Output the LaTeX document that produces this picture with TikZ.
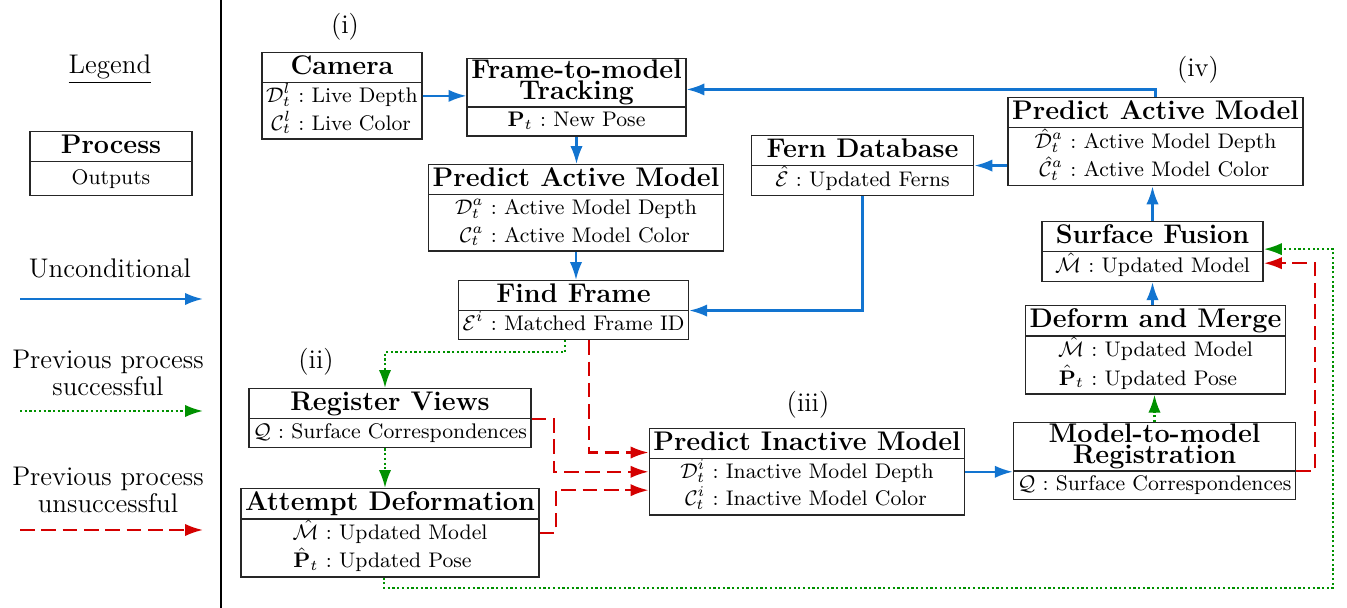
\RequirePackage{fix-cm}
\documentclass[tikz,border=0pt]{standalone}
\usetikzlibrary{shapes.multipart,arrows.meta,calc}

\definecolor{flowblue}{RGB}{18,116,208}
\definecolor{flowgreen}{RGB}{0,145,0}
\definecolor{flowred}{RGB}{212,0,0}

% text size of the outputs
\newcommand\outfont{\fontsize{9.4}{11.3}\selectfont}
% trims a tabular so that a part is not padded twice
\newcommand\trim[1]{\raisebox{0pt}[\dimexpr\height-1pt][\dimexpr\depth-1pt]{#1}}
% title of a process box (one line, fixed strut)
\newcommand\tstrut{\rule[-2.3pt]{0pt}{10.6pt}}
\newcommand\ttl[1]{{\large\bfseries\tstrut#1}}
% two-line title
\newcommand\ttwo[2]{\trim{\large\bfseries\def\arraystretch{0.7}%
  \begin{tabular}{@{}c@{}}#1\\[-1.7pt]#2\end{tabular}}}
% list of outputs "symbol : description"
\newcommand\outs[1]{\trim{\def\arraystretch{1.08}%
  \begin{tabular}{@{}r@{\ :\ }l@{}}#1\end{tabular}}}

\begin{document}
\begin{tikzpicture}[x=0.445pt,y=-0.445pt,
  proc/.style={rectangle split, rectangle split parts=2, draw=black!85,
    line width=0.65pt, inner xsep=1.8pt, inner ysep=1pt, font=\outfont,
    anchor=north},
  flow/.style={line width=1pt, -{Latex[length=8pt,width=5.5pt]}},
  uncond/.style={flow, draw=flowblue},
  succ/.style={flow, draw=flowgreen, dash pattern=on 1pt off 1.1pt},
  fail/.style={flow, draw=flowred, dash pattern=on 6.5pt off 3pt},
  lbl/.style={font=\large, inner sep=0pt},
]
\useasboundingbox (0,0) rectangle (1347,608);

% ---------------- legend ----------------
\node[lbl] (legtitle) at (110,69) {\underline{Legend}};
\node[proc, minimum width=72pt] (key) at (111,131)
  {\ttl{Process}\nodepart{two}\rule[-3.6pt]{0pt}{12.5pt}Outputs};

\node[lbl] (legA) at (110,268) {Unconditional};
\coordinate (la1) at (20,299); \coordinate (la2) at (203,299);
\draw[uncond] (la1) -- (la2);

\node[lbl, align=center] (legB) at (108,373) {Previous process\\[-2pt]successful};
\coordinate (lb1) at (20,411); \coordinate (lb2) at (203,411);
\draw[succ] (lb1) -- (lb2);

\node[lbl, align=center] (legC) at (108,490) {Previous process\\[-2pt]unsuccessful};
\coordinate (lc1) at (20,530); \coordinate (lc2) at (203,530);
\draw[fail] (lc1) -- (lc2);

\draw[line width=0.9pt] (221,0) -- (221,608);

% ---------------- stage labels ----------------
\node[lbl] (s1) at (345,27) {(i)};
\node[lbl] (s2) at (316,362) {(ii)};
\node[lbl] (s3) at (808,405) {(iii)};
\node[lbl] (s4) at (1198,70) {(iv)};

% ---------------- processes ----------------
\node[proc] (cam) at (342,52)
  {\ttl{Camera}\nodepart{two}\outs{$\mathcal{D}^l_t$ & Live Depth\\ $\mathcal{C}^l_t$ & Live Color}};
\node[proc] (ftm) at (576.5,58)
  {\ttwo{Frame-to-model}{Tracking}\nodepart{two}\outs{$\mathbf{P}_t$ & New Pose}};
\node[proc] (pal) at (576,164)
  {\ttl{Predict Active Model}\nodepart{two}\outs{$\mathcal{D}^a_t$ & Active Model Depth\\ $\mathcal{C}^a_t$ & Active Model Color}};
\node[proc] (ff) at (573.5,280)
  {\ttl{Find Frame}\nodepart{two}\outs{$\mathcal{E}^i$ & Matched Frame ID}};
\node[proc, minimum width=99pt] (fern) at (862.5,135)
  {\ttl{Fern Database}\nodepart{two}\outs{$\hat{\mathcal{E}}$ & Updated Ferns}};
\node[proc] (par) at (1155.5,97)
  {\ttl{Predict Active Model}\nodepart{two}\outs{$\hat{\mathcal{D}}^a_t$ & Active Model Depth\\ $\hat{\mathcal{C}}^a_t$ & Active Model Color}};
\node[proc, minimum width=98.5pt] (sf) at (1152.5,221)
  {\ttl{Surface Fusion}\nodepart{two}\outs{$\hat{\mathcal{M}}$ & Updated Model}};
\node[proc] (dm) at (1155.5,305)
  {\ttl{Deform and Merge}\nodepart{two}\outs{$\hat{\mathcal{M}}$ & Updated Model\\ $\hat{\mathbf{P}}_t$ & Updated Pose}};
\node[proc] (mm) at (1154.5,422)
  {\ttwo{Model-to-model}{Registration}\nodepart{two}\outs{$\mathcal{Q}$ & Surface Correspondences}};
\node[proc] (pim) at (807,428)
  {\ttl{Predict Inactive Model}\nodepart{two}\outs{$\mathcal{D}^i_t$ & Inactive Model Depth\\ $\mathcal{C}^i_t$ & Inactive Model Color}};
\node[proc] (rv) at (390,388)
  {\ttl{Register Views}\nodepart{two}\outs{$\mathcal{Q}$ & Surface Correspondences}};
\node[proc] (ad) at (390,488)
  {\ttl{Attempt Deformation}\nodepart{two}\outs{$\hat{\mathcal{M}}$ & Updated Model\\ $\hat{\mathbf{P}}_t$ & Updated Pose}};

% ---------------- connection points ----------------
\coordinate (ftmin) at ($(ftm.north east)!0.4!(ftm.south east)$);
\coordinate (sfg)   at ($(sf.north east)!0.46!(sf.south east)$);
\coordinate (sfr)   at ($(sf.north east)!0.69!(sf.south east)$);
\coordinate (pimA)  at ($(pim.north west)!0.28!(pim.south west)$);
\coordinate (pimB)  at ($(pim.north west)!0.50!(pim.south west)$);
\coordinate (pimC)  at ($(pim.north west)!0.71!(pim.south west)$);
\coordinate (ffg)   at ($(ff.south)+(-8.5,0)$);
\coordinate (ffr)   at ($(ff.south)+(15.5,0)$);
\coordinate (adg)   at ($(ad.south)+(-6,0)$);
\coordinate (gcorner) at (1333,588);

% ---------------- unconditional flow ----------------
\draw[uncond] (cam.east) -- (cam.east -| ftm.west);
\draw[uncond] (ftm.south) -- (ftm.south |- pal.north);
\draw[uncond] (pal.south) -- (pal.south |- ff.north);
\draw[uncond] (par.north) |- (ftmin);
\draw[uncond] (par.west |- fern.text split east) -- (fern.text split east);
\draw[uncond] (fern.south) |- (ff.text split east);
\draw[uncond] (sf.north) -- (sf.north |- par.south);
\draw[uncond] (sf.south |- dm.north) -- (sf.south);
\draw[uncond] (pim.east) -- (pim.east -| mm.west);

% ---------------- previous process successful ----------------
\draw[succ] (ffg) -- ++(0,12) -| ($(rv.north)+(-5,0)$);
\draw[succ] ($(rv.south)+(-5,0)$) -- ($(ad.north)+(-5,0)$);
\draw[succ] (mm.north) -- (mm.north |- dm.south);
\draw[succ] (adg) |- (gcorner) |- (sfg);

% ---------------- previous process unsuccessful ----------------
\draw[fail] (ffr) |- (pimA);
\draw[fail] (rv.text split east) -- ++(22,0) |- (pimB);
\draw[fail] (ad.east) -- ++(16,0) |- (pimC);
\draw[fail] (mm.text split east) -- ++(19,0) |- (sfr);
\end{tikzpicture}
\end{document}
